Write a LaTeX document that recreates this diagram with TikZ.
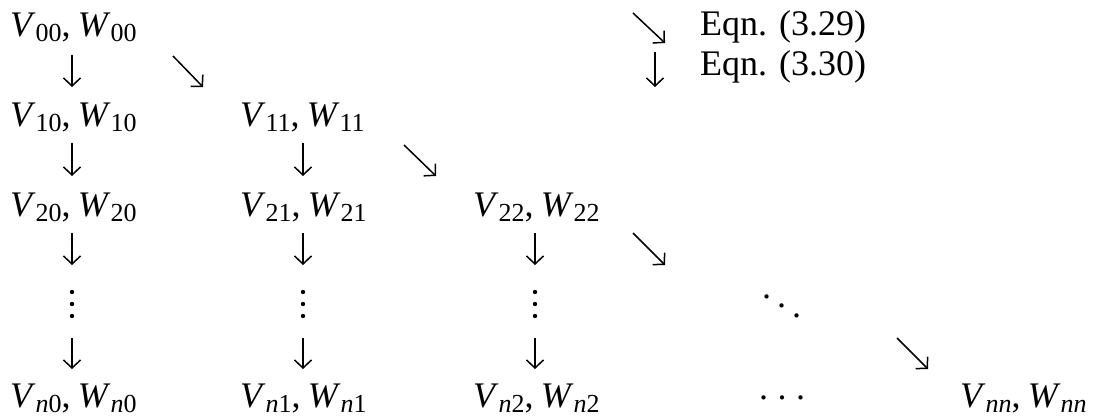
\documentclass[tikz,border=0pt]{standalone}
\usepackage{fontspec}
\setmainfont{Liberation Serif}
\usetikzlibrary{arrows.meta}
\newcommand\sbx[1]{\raisebox{-0.14em}{\fontsize{26}{26}\selectfont #1}}
\newcommand\pairVW[1]{\textit{V}\sbx{#1},\kern0.2em\textit{W}\sbx{#1}}
\newcommand\myddots{.\kern6pt\raisebox{-9.5pt}{.}\kern6pt\raisebox{-19pt}{.}}
\newcommand\mycdots{\raisebox{8pt}{.\kern9.5pt.\kern9.5pt.}}
\begin{document}
\begin{tikzpicture}[x=1pt,y=-1pt,
  lbl/.style={inner sep=0pt,anchor=base west,font=\fontsize{36}{40}\selectfont},
  vdot/.style={circle,fill=black,inner sep=0pt,minimum size=4.4pt},
  arr/.style={line width=1.5pt,-{Straight Barb[length=8pt,width=17pt]}}]
\useasboundingbox (0,0) rectangle (1104,416);
% labels
\node[lbl] (v00) at (10,36) {\pairVW{00}};
\node[lbl] (v10) at (10,126) {\pairVW{10}};
\node[lbl] (v20) at (10,216) {\pairVW{20}};
\node[lbl] (vn0) at (10,407) {\pairVW{\textit{n}0}};
\node[lbl] (v11) at (240,126) {\pairVW{11}};
\node[lbl] (v21) at (240,216) {\pairVW{21}};
\node[lbl] (vn1) at (240,407) {\pairVW{\textit{n}1}};
\node[lbl] (v22) at (473,216) {\pairVW{22}};
\node[lbl] (vn2) at (473,407) {\pairVW{\textit{n}2}};
\node[lbl] (vnn) at (960,407) {\pairVW{\textit{nn}}};
\node[lbl] (cd) at (759,407) {\mycdots};
\node[lbl] (dd) at (762,298) {\myddots};
\node[lbl] (e1) at (700,35) {Eqn. (3.29)};
\node[lbl] (e2) at (700,75) {Eqn. (3.30)};
% vertical dots
\foreach \x/\c in {72/0,303/1,535/2}{
  \node[vdot] (vd\c a) at (\x,292) {};
  \node[vdot] (vd\c b) at (\x,304) {};
  \node[vdot] (vd\c c) at (\x,316) {};
}
% arrow end points
\coordinate (a01s) at (72,55);  \coordinate (a01e) at (72,87);
\coordinate (a02s) at (72,143); \coordinate (a02e) at (72,176);
\coordinate (a03s) at (72,233); \coordinate (a03e) at (72,265);
\coordinate (a04s) at (72,338); \coordinate (a04e) at (72,369);
\coordinate (a12s) at (303,143); \coordinate (a12e) at (303,176);
\coordinate (a13s) at (303,233); \coordinate (a13e) at (303,265);
\coordinate (a14s) at (303,338); \coordinate (a14e) at (303,369);
\coordinate (a23s) at (535,233); \coordinate (a23e) at (535,265);
\coordinate (a24s) at (535,338); \coordinate (a24e) at (535,369);
\coordinate (d1s) at (173,56);  \coordinate (d1e) at (203,87);
\coordinate (d2s) at (404,145); \coordinate (d2e) at (436,176);
\coordinate (d3s) at (633,233); \coordinate (d3e) at (665,265);
\coordinate (d4s) at (897,338); \coordinate (d4e) at (928,369);
\coordinate (lds) at (633,13);  \coordinate (lde) at (665,43);
\coordinate (lvs) at (655,52);  \coordinate (lve) at (655,87);
% arrows
\foreach \a in {a01,a02,a03,a04,a12,a13,a14,a23,a24,d1,d2,d3,d4,ld,lv}
  \draw[arr] (\a s) -- (\a e);
\end{tikzpicture}
\end{document}
